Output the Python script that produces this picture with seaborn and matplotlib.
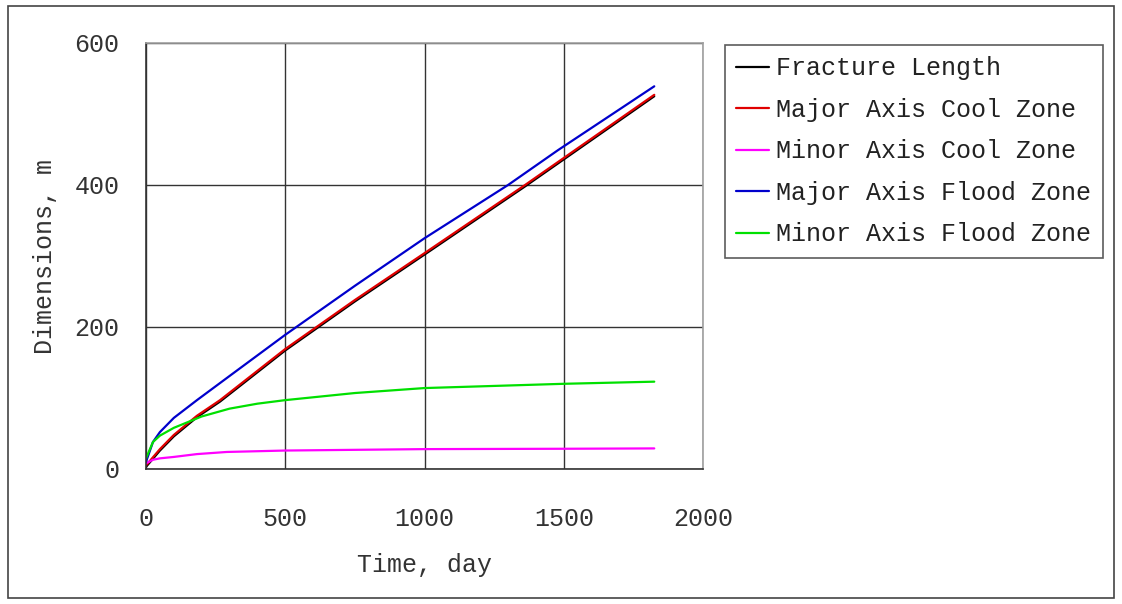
import numpy as np
import pandas as pd
import matplotlib.pyplot as plt
import seaborn as sns
from matplotlib.patches import Rectangle

# values (time in days, dimensions in m)
t_frac = [0, 50, 100, 183, 266, 500, 750, 1000, 1361, 1540, 1825]
fracture_length = [3, 26, 46, 73, 95, 167, 236, 302, 398, 447, 525]

t_major_cool = [0, 50, 100, 183, 266, 500, 750, 1000, 1361, 1540, 1825]
major_cool = [5, 28, 48, 75, 97, 169, 238, 304, 400, 449, 527]

t_minor_cool = [0, 25, 50, 100, 183, 290, 500, 1000, 1500, 1825]
minor_cool = [8, 13, 15, 17, 21, 24, 26, 28, 28.5, 29]

t_major_flood = [0, 25, 50, 100, 183, 300, 500, 750, 1000, 1300, 1479, 1825]
major_flood = [10, 38, 52, 72, 97, 131, 189, 258, 325, 400, 449, 539]

t_minor_flood = [0, 25, 50, 100, 150, 200, 300, 400, 500, 750, 1000, 1250, 1500, 1825]
minor_flood = [15, 38, 47, 58, 66, 74, 85, 92, 97, 107, 114, 117, 120, 123]

series = [
    ("Fracture Length", t_frac, fracture_length, "#000000"),
    ("Major Axis Cool Zone", t_major_cool, major_cool, "#e00000"),
    ("Minor Axis Cool Zone", t_minor_cool, minor_cool, "#ff00ff"),
    ("Major Axis Flood Zone", t_major_flood, major_flood, "#0000cc"),
    ("Minor Axis Flood Zone", t_minor_flood, minor_flood, "#00e000"),
]

sns.set_style("white")
plt.rcParams['font.family'] = ['Liberation Mono', 'DejaVu Sans Mono']
plt.rcParams['font.size'] = 18

fig = plt.figure(figsize=(11.22, 6.04), dpi=100)
ax = fig.add_axes([146/1122, 1 - 469/604, (703-146)/1122, (469-43)/604])

for name, t, y, c in series:
    df = pd.DataFrame({"t": t, "y": y})
    sns.lineplot(data=df, x="t", y="y", color=c, linewidth=1.6, label=name, ax=ax)

ax.set_xlim(0, 2000)
ax.set_ylim(0, 600)
ax.set_xticks([0, 500, 1000, 1500, 2000])
ax.set_yticks([0, 200, 400, 600])
ax.grid(True, color="#333333", linewidth=1.0)
ax.set_axisbelow(True)
ax.tick_params(length=0, labelcolor="#333333")
ax.tick_params(axis="x", pad=27)
ax.tick_params(axis="y", pad=19)
ax.set_xlabel("Time, day", color="#333333", labelpad=16)
ax.set_ylabel("Dimensions, m", color="#333333", labelpad=13)

for side in ["left", "bottom"]:
    ax.spines[side].set_color("#333333")
    ax.spines[side].set_linewidth(1.2)
for side in ["top", "right"]:
    ax.spines[side].set_color("#a0a0a0")
    ax.spines[side].set_linewidth(1.2)

leg = ax.legend(loc="upper left", bbox_to_anchor=(725/1122, 1 - 45/604),
                bbox_transform=fig.transFigure, frameon=True, fancybox=False,
                handlelength=1.3, handletextpad=0.3, borderpad=0.45,
                labelspacing=0.7, borderaxespad=0, fontsize=18)
leg.get_frame().set_edgecolor("#333333")
leg.get_frame().set_linewidth(1.2)
for txt in leg.get_texts():
    txt.set_color("#222222")

# outer border around the whole picture
fig.patches.append(Rectangle((8/1122, 6/604), (1114-8)/1122, (598-6)/604,
                             transform=fig.transFigure, fill=False,
                             edgecolor="#444444", linewidth=1.2))

fig.savefig("out.png", dpi=100)
